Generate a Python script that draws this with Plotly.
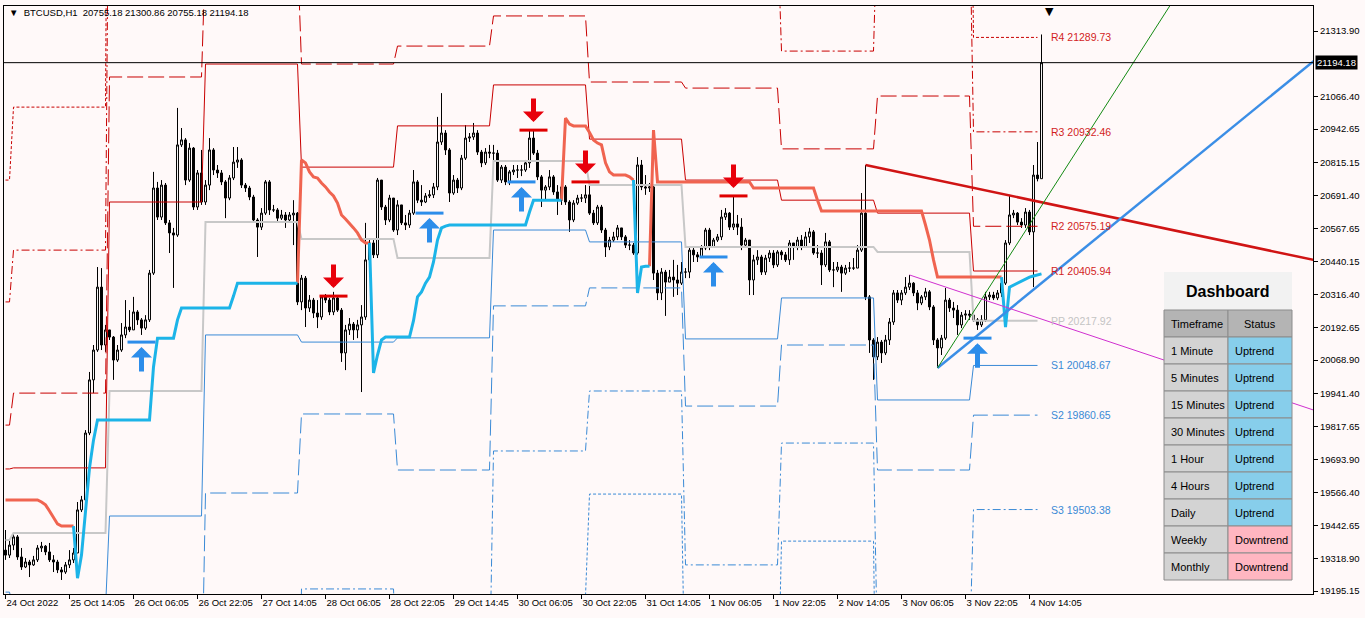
import plotly.graph_objects as go

# ---------------- data ----------------
TIME_TICK_BARS = [0, 16, 32, 48, 64, 80, 96, 112, 128, 144, 160, 176, 192, 208, 224, 240, 256]
TIME_TICK_LABELS = ["24 Oct 2022", "25 Oct 14:05", "26 Oct 06:05", "26 Oct 22:05", "27 Oct 14:05",
                    "28 Oct 06:05", "28 Oct 22:05", "29 Oct 14:45", "30 Oct 06:05", "30 Oct 22:05",
                    "31 Oct 14:05", "1 Nov 06:05", "1 Nov 22:05", "2 Nov 14:05", "3 Nov 06:05",
                    "3 Nov 22:05", "4 Nov 14:05"]
PRICE_TICKS = [21313.90, 21066.40, 20942.65, 20815.15, 20691.40, 20567.65, 20440.15, 20316.40,
               20192.65, 20068.90, 19941.40, 19817.65, 19693.90, 19566.40, 19442.65, 19318.90, 19195.15]

FIRST_OPEN = 19350
CLOSE = [19331, 19369, 19400, 19324, 19286, 19305, 19294, 19313, 19358, 19365,
         19343, 19313, 19305, 19275, 19267, 19294, 19313, 19339, 19502, 19540,
         19793, 19994, 20107, 20345, 20126, 20183, 20156, 20069, 20107, 20164,
         20194, 20183, 20251, 20221, 20190, 20221, 20398, 20720, 20610, 20731,
         20588, 20550, 20542, 20883, 20902, 20750, 20871, 20648, 20777, 20667,
         20731, 20864, 20788, 20777, 20743, 20682, 20758, 20818, 20826, 20731,
         20720, 20686, 20599, 20572, 20625, 20743, 20637, 20637, 20606, 20618,
         20599, 20618, 20625, 20289, 20379, 20266, 20296, 20247, 20232, 20308,
         20296, 20251, 20304, 20258, 20096, 20183, 20205, 20183, 20202, 20232,
         20448, 20512, 20467, 20750, 20648, 20599, 20682, 20561, 20656, 20588,
         20580, 20625, 20743, 20674, 20667, 20690, 20694, 20724, 20894, 20928,
         20864, 20701, 20750, 20720, 20833, 20909, 20913, 20928, 20856, 20815,
         20856, 20852, 20852, 20750, 20799, 20743, 20781, 20788, 20788, 20788,
         20815, 20909, 20852, 20762, 20712, 20724, 20762, 20705, 20674, 20724,
         20667, 20599, 20663, 20682, 20682, 20694, 20625, 20588, 20648, 20561,
         20497, 20523, 20535, 20569, 20535, 20504, 20504, 20474, 20807, 20724,
         20720, 20724, 20398, 20323, 20402, 20364, 20383, 20372, 20360, 20402,
         20402, 20485, 20467, 20459, 20493, 20561, 20497, 20523, 20535, 20610,
         20625, 20572, 20584, 20572, 20504, 20523, 20372, 20448, 20459, 20402,
         20455, 20474, 20429, 20478, 20467, 20448, 20512, 20497, 20523, 20497,
         20535, 20554, 20474, 20474, 20429, 20516, 20410, 20410, 20421, 20398,
         20417, 20417, 20417, 20485, 20625, 20308, 20145, 20081, 20137, 20096,
         20145, 20213, 20323, 20296, 20323, 20345, 20360, 20323, 20285, 20308,
         20327, 20270, 20145, 20115, 20152, 20296, 20266, 20258, 20202, 20239,
         20243, 20239, 20221, 20202, 20221, 20308, 20315, 20304, 20323, 20360,
         20512, 20618, 20625, 20591, 20580, 20629, 20554, 20769, 20755.18, 21194.18]
HIGH = [19426, 19388, 19415, 19407, 19358, 19320, 19313, 19328, 19369, 19381,
        19369, 19377, 19331, 19313, 19286, 19305, 19350, 19358, 19532, 19555,
        19804, 20024, 20126, 20421, 20417, 20202, 20183, 20160, 20126, 20209,
        20296, 20258, 20308, 20258, 20228, 20239, 20410, 20781, 20743, 20750,
        20739, 20599, 20569, 21023, 20947, 20909, 20890, 20875, 20788, 20864,
        20750, 20909, 20871, 20807, 20788, 20750, 20769, 20875, 20875, 20833,
        20739, 20728, 20694, 20606, 20644, 20750, 20750, 20656, 20644, 20637,
        20629, 20629, 20674, 20629, 20391, 20387, 20315, 20304, 20296, 20315,
        20319, 20304, 20327, 20308, 20266, 20202, 20228, 20213, 20221, 20277,
        20588, 20523, 20523, 20758, 20750, 20656, 20694, 20682, 20674, 20656,
        20618, 20637, 20788, 20750, 20731, 20701, 20712, 20739, 20989, 21079,
        20939, 20871, 20769, 20758, 20845, 20958, 20928, 20966, 20939, 20864,
        20871, 20883, 20883, 20864, 20807, 20807, 20788, 20807, 20807, 20807,
        20826, 20939, 20936, 20864, 20769, 20731, 20788, 20769, 20731, 20739,
        20731, 20674, 20674, 20694, 20697, 20731, 20743, 20637, 20656, 20656,
        20569, 20535, 20554, 20580, 20569, 20542, 20523, 20512, 20837, 20826,
        20769, 20739, 20731, 20410, 20417, 20410, 20410, 20448, 20429, 20440,
        20417, 20493, 20493, 20478, 20504, 20569, 20569, 20531, 20546, 20637,
        20644, 20629, 20686, 20618, 20606, 20531, 20523, 20467, 20485, 20467,
        20467, 20485, 20485, 20485, 20485, 20478, 20523, 20512, 20535, 20542,
        20554, 20569, 20561, 20504, 20485, 20550, 20523, 20440, 20440, 20429,
        20429, 20440, 20455, 20504, 20701, 20807, 20315, 20152, 20156, 20145,
        20164, 20228, 20334, 20334, 20334, 20383, 20391, 20364, 20334, 20315,
        20342, 20334, 20277, 20152, 20164, 20342, 20304, 20289, 20277, 20251,
        20258, 20258, 20247, 20228, 20239, 20327, 20327, 20327, 20334, 20372,
        20523, 20694, 20637, 20629, 20606, 20644, 20637, 20807, 20894, 21300.86]
LOW = [19313, 19320, 19350, 19313, 19275, 19282, 19248, 19290, 19305, 19343,
       19331, 19305, 19267, 19263, 19237, 19260, 19282, 19301, 19339, 19494,
       19521, 19785, 19944, 20100, 20107, 20100, 20145, 19994, 20062, 20100,
       20152, 20175, 20183, 20202, 20164, 20183, 20213, 20391, 20599, 20599,
       20580, 20474, 20342, 20535, 20875, 20731, 20743, 20637, 20637, 20656,
       20656, 20712, 20769, 20758, 20731, 20606, 20674, 20750, 20796, 20720,
       20705, 20674, 20591, 20459, 20561, 20618, 20618, 20629, 20591, 20599,
       20569, 20591, 20504, 20277, 20258, 20194, 20251, 20228, 20190, 20221,
       20285, 20239, 20239, 20251, 20062, 20031, 20164, 20145, 20152, 19948,
       20221, 20440, 20455, 20455, 20637, 20580, 20591, 20554, 20542, 20580,
       20561, 20569, 20618, 20663, 20652, 20663, 20682, 20682, 20712, 20883,
       20845, 20667, 20694, 20701, 20712, 20826, 20894, 20902, 20845, 20799,
       20807, 20833, 20826, 20743, 20739, 20731, 20731, 20769, 20758, 20765,
       20781, 20796, 20845, 20750, 20648, 20674, 20712, 20694, 20618, 20656,
       20656, 20554, 20591, 20656, 20667, 20663, 20618, 20580, 20580, 20550,
       20459, 20485, 20516, 20523, 20523, 20493, 20485, 20467, 20467, 20712,
       20694, 20705, 20372, 20296, 20296, 20236, 20364, 20308, 20315, 20353,
       20379, 20379, 20440, 20440, 20455, 20485, 20485, 20493, 20516, 20523,
       20599, 20561, 20561, 20542, 20485, 20493, 20315, 20315, 20429, 20391,
       20391, 20440, 20417, 20421, 20448, 20440, 20429, 20448, 20485, 20485,
       20493, 20512, 20467, 20455, 20353, 20421, 20402, 20345, 20402, 20327,
       20391, 20402, 20410, 20417, 20478, 20296, 20096, 19994, 20069, 20058,
       20088, 20126, 20202, 20285, 20277, 20315, 20334, 20311, 20258, 20277,
       20296, 20258, 20126, 20039, 20088, 20145, 20251, 20228, 20164, 20190,
       20221, 20221, 20213, 20183, 20194, 20213, 20296, 20296, 20296, 20308,
       20353, 20504, 20606, 20580, 20569, 20569, 20542, 20345, 20745, 20755.18]

# daily pivot levels (one value per day, last = current day)
DAY_FIRST_BAR = [0, 2, 26, 50, 74, 98, 122, 146, 170, 194, 218, 242]
LAST_PIVOT_BAR = 258
R4 = [20750, 21026, 23516, 23667, 22513, 22861, 22468, 21900, 22302, 21609, 22483, 21289.73]
R3 = [20289, 20485, 22328, 22642, 21851, 22059, 21919, 21511, 21700, 21238, 21776, 20932.46]
R2 = [19823, 19944, 21140, 21617, 21189, 21257, 21371, 21121, 21098, 20868, 21068, 20575.19]
R1 = [19657, 19661, 20667, 21189, 20799, 20955, 21110, 20905, 20750, 20674, 20625, 20405.94]
PP = [19388, 19415, 19952, 20591, 20527, 20455, 20822, 20731, 20497, 20497, 20478, 20217.92]
S1 = [19191, 19127, 19479, 20164, 20137, 20153, 20561, 20516, 20149, 20304, 19918, 20048.67]
S2 = [18893, 18881, 18764, 19566, 19865, 19653, 20274, 20342, 19895, 20126, 19653, 19860.65]
S3 = [18427, 18348, 17576, 18541, 19203, 18851, 19725, 19952, 19294, 19755, 18946, 19503.38]
S4 = [17962, 17814, 16388, 17515, 18541, 18049, 19176, 19562, 18692, 19384, 18238, 19146.11]

# trailing stop line: (first bar, values)
ORANGE_SEGS = [
    (0, [19540, 19540, 19540, 19540, 19540, 19540, 19540, 19540, 19540, 19532, 19521, 19498,
         19471, 19449, 19441, 19441, 19441, 19441]),
    (73, [20360, 20826, 20815, 20781, 20762, 20758, 20739, 20724, 20705, 20690, 20663, 20618,
          20603, 20588, 20569, 20550, 20523, 20512, 20512]),
    (139, [20674, 20985, 20962, 20955, 20955, 20955, 20955, 20930, 20902, 20890, 20883, 20815,
           20781, 20769, 20769, 20769, 20769, 20762, 20750]),
    (161, [20424, 20939,
           20743, 20743, 20743, 20743, 20743, 20743, 20743, 20743, 20743, 20743,
           20743, 20743, 20743, 20743, 20743, 20743, 20743, 20743, 20743, 20743,
           20743, 20743, 20743, 20743,
           20720, 20720, 20720, 20720, 20720, 20720, 20720, 20720, 20720, 20720,
           20720, 20720, 20720, 20720, 20720, 20720,
           20674, 20633, 20633, 20633, 20633, 20633, 20633, 20633, 20633, 20633,
           20633, 20633, 20633, 20633, 20633, 20633, 20633, 20633, 20633, 20633,
           20633, 20633, 20633, 20633, 20633, 20633, 20633,
           20580, 20523, 20448,
           20383, 20383, 20383, 20383, 20383, 20383, 20383, 20383, 20383, 20383,
           20383, 20383, 20383, 20383, 20383, 20383, 20383]),
]
BLUE_SEGS = [
    (17, [19441, 19244, 19331, 19502, 19661, 19766, 19842,
          19842, 19842, 19842, 19842, 19842, 19842, 19842, 19842, 19842, 19842, 19842, 19842, 19842,
          20043, 20152, 20152, 20152, 20152, 20152, 20221,
          20266, 20266, 20266, 20266, 20266, 20266, 20266, 20266, 20266, 20266, 20266, 20266, 20266,
          20311,
          20360, 20360, 20360, 20360, 20360, 20360, 20360, 20360, 20360, 20360, 20360, 20360, 20360,
          20360, 20360, 20360]),
    (91, [20512, 20020, 20088, 20145, 20156, 20156, 20156, 20156, 20156, 20156, 20156,
          20218, 20308, 20327, 20360, 20383, 20440, 20523, 20569, 20576,
          20580, 20580, 20580, 20580, 20580, 20580, 20580, 20580, 20580, 20580,
          20580, 20580, 20580, 20580, 20580, 20580, 20580, 20580, 20580, 20580,
          20629, 20674, 20674, 20674, 20674, 20674, 20674, 20674, 20674]),
    (157, [20750, 20323, 20421, 20424, 20424]),
    (249, [20383, 20194, 20345, 20353, 20360, 20368, 20376, 20383, 20387, 20391, 20395]),
]

SELL_BARS = [82, 132, 145, 182]
SELL_LEVELS = [20311, 20939, 20743, 20690]
BUY_BARS = [34, 106, 129, 177, 243]
BUY_LEVELS = [20137, 20625, 20743, 20459, 20152]

RED_TREND = ([215, 327], [20807, 20448])
BLUE_TREND = ([233, 327], [20039, 21200])
GREEN_TREND = ([233, 292], [20039, 21431])
MAGENTA_TREND = ([226, 327], [20391, 19880])

TIMEFRAMES = ["1 Minute", "5 Minutes", "15 Minutes", "30 Minutes", "1 Hour", "4 Hours",
              "Daily", "Weekly", "Monthly"]
STATUSES = ["Uptrend", "Uptrend", "Uptrend", "Uptrend", "Uptrend", "Uptrend", "Uptrend",
            "Downtrend", "Downtrend"]

# ---------------- styling ----------------
BG = "#FFF9F9"
FONT = "Liberation Sans, Arial, sans-serif"
RED_PIV = "#C80000"
BLUE_PIV = "#3A8AD6"
W, H = 1365, 618
PL, PR, PT, PB = 4, 1313, 6, 594


def px(x):
    return (x - PL) / (PR - PL)


def py(y):
    return (PB - y) / (PB - PT)


fig = go.Figure()

# pivot levels: each day drawn from its first to its last bar, joined to the next day
piv_styles = [
    ("R4", R4, RED_PIV, "3px,2px", 1),
    ("R3", R3, RED_PIV, "8px,3px,2px,3px", 1),
    ("R2", R2, RED_PIV, "16px,5px", 1),
    ("R1", R1, RED_PIV, "solid", 1),
    ("PP", PP, "#C8C8C8", "solid", 2),
    ("S1", S1, BLUE_PIV, "solid", 1),
    ("S2", S2, BLUE_PIV, "16px,5px", 1),
    ("S3", S3, BLUE_PIV, "8px,3px,2px,3px", 1),
    ("S4", S4, BLUE_PIV, "3px,2px", 1),
]
day_last = [b - 1 for b in DAY_FIRST_BAR[1:]] + [LAST_PIVOT_BAR]
for name, vals, col, dash, w in piv_styles:
    xs, ys = [], []
    for s, e, v in zip(DAY_FIRST_BAR, day_last, vals):
        xs += [s, e]
        ys += [v, v]
    fig.add_trace(go.Scatter(x=xs, y=ys, mode="lines",
                             line=dict(color=col, width=w, dash=dash),
                             hoverinfo="skip", showlegend=False))

# candles
bars = list(range(len(CLOSE)))
opens = [FIRST_OPEN] + CLOSE[:-1]
fig.add_trace(go.Candlestick(x=bars, open=opens, high=HIGH, low=LOW, close=CLOSE,
                             increasing=dict(line=dict(color="black", width=1), fillcolor="white"),
                             decreasing=dict(line=dict(color="black", width=1), fillcolor="black"),
                             whiskerwidth=0, hoverinfo="skip", showlegend=False))

# trailing lines
for start, vals in ORANGE_SEGS:
    fig.add_trace(go.Scatter(x=[start + k for k in range(len(vals))], y=vals, mode="lines",
                             line=dict(color="#F06450", width=3), hoverinfo="skip", showlegend=False))
for start, vals in BLUE_SEGS:
    fig.add_trace(go.Scatter(x=[start + k for k in range(len(vals))], y=vals, mode="lines",
                             line=dict(color="#1CB4E8", width=3), hoverinfo="skip", showlegend=False))

# trend lines
for (xs, ys), col, w in [(RED_TREND, "#D01414", 2.5), (BLUE_TREND, "#3B8EE6", 2.5),
                         (GREEN_TREND, "#138A13", 1), (MAGENTA_TREND, "#D030D0", 1)]:
    fig.add_trace(go.Scatter(x=xs, y=ys, mode="lines", line=dict(color=col, width=w),
                             hoverinfo="skip", showlegend=False))

# signal bars
fig.add_trace(go.Scatter(x=SELL_BARS, y=SELL_LEVELS, mode="markers",
                         marker=dict(symbol="line-ew", size=20, line=dict(color="#E00000", width=3)),
                         hoverinfo="skip", showlegend=False))
fig.add_trace(go.Scatter(x=BUY_BARS, y=BUY_LEVELS, mode="markers",
                         marker=dict(symbol="line-ew", size=20, line=dict(color="#2C8DEA", width=3)),
                         hoverinfo="skip", showlegend=False))

annotations = []
shapes = []
for b, lv in zip(SELL_BARS, SELL_LEVELS):
    annotations.append(dict(x=b, y=lv, xref="x", yref="y", ax=0, ay=-33, showarrow=True, text="",
                            arrowhead=1, arrowsize=0.7, arrowwidth=5, arrowcolor="#E8000B", standoff=8))
for b, lv in zip(BUY_BARS, BUY_LEVELS):
    annotations.append(dict(x=b, y=lv, xref="x", yref="y", ax=0, ay=31, showarrow=True, text="",
                            arrowhead=1, arrowsize=0.7, arrowwidth=5, arrowcolor="#2C8DEA", standoff=5))

# pivot labels (current day)
label_x = 260.75
for name, vals, col in [("R4", R4, "#D21E1E"), ("R3", R3, "#D21E1E"), ("R2", R2, "#D21E1E"),
                        ("R1", R1, "#D21E1E"), ("PP", PP, "#C4C4C4"), ("S1", S1, "#3A8AD6"),
                        ("S2", S2, "#3A8AD6"), ("S3", S3, "#3A8AD6")]:
    annotations.append(dict(x=label_x, y=vals[-1], xref="x", yref="y", text=f"{name} {vals[-1]:.2f}",
                            showarrow=False, xanchor="left", yanchor="middle",
                            font=dict(family=FONT, size=10.5, color=col)))

# current price label
annotations.append(dict(x=1.0, y=CLOSE[-1], xref="paper", yref="y", text=f"{CLOSE[-1]:.2f}",
                        showarrow=False, xanchor="left", yanchor="middle", xshift=2,
                        bgcolor="black", borderpad=1, font=dict(family=FONT, size=9.5, color="white")))
# chart title
annotations.append(dict(x=px(7), y=py(13), xref="paper", yref="paper",
                        text="\u25BC  BTCUSD,H1  20755.18 21300.86 20755.18 21194.18",
                        showarrow=False, xanchor="left", yanchor="middle",
                        font=dict(family=FONT, size=9.5, color="black")))
# shift marker
annotations.append(dict(x=px(1049), y=1.0, xref="paper", yref="paper", text="\u25BC",
                        showarrow=False, xanchor="center", yanchor="top", yshift=3,
                        font=dict(family="DejaVu Sans", size=11, color="black")))

# dashboard (title box + table cells built from the lists)
DX0, DX1, DXM = 1164, 1292, 1228
DY_TITLE, DY_HEAD, ROW_H = 272, 310, 27
shapes.append(dict(type="rect", xref="paper", yref="paper", layer="above",
                   x0=px(DX0), x1=px(DX1), y0=py(DY_HEAD), y1=py(DY_TITLE),
                   fillcolor="#F2F2F2", line=dict(width=0)))
annotations.append(dict(x=px(DXM), y=py((DY_TITLE + DY_HEAD) / 2), xref="paper", yref="paper",
                        text="<b>Dashboard</b>", showarrow=False, xanchor="center", yanchor="middle",
                        font=dict(family=FONT, size=16, color="black")))
rows = [("Timeframe", "Status", "#B4B4B4", "#B4B4B4")] + [
    (tf, st, "#D3D3D3", "#87CEEB" if st == "Uptrend" else "#FFB6C1") for tf, st in zip(TIMEFRAMES, STATUSES)]
for k, (tf, st, c1, c2) in enumerate(rows):
    y0 = DY_HEAD + k * ROW_H
    y1 = y0 + ROW_H
    for xa, xb, col in [(DX0, DXM, c1), (DXM, DX1, c2)]:
        shapes.append(dict(type="rect", xref="paper", yref="paper", layer="above",
                           x0=px(xa), x1=px(xb), y0=py(y1), y1=py(y0),
                           fillcolor=col, line=dict(color="#8C8C8C", width=1)))
    ym = py((y0 + y1) / 2)
    annotations.append(dict(x=px(DX0 + 5), y=ym, xref="paper", yref="paper", text=tf, showarrow=False,
                            xanchor="left", yanchor="middle", font=dict(family=FONT, size=11, color="black")))
    if k == 0:
        annotations.append(dict(x=px((DXM + DX1) / 2), y=ym, xref="paper", yref="paper", text=st,
                                showarrow=False, xanchor="center", yanchor="middle",
                                font=dict(family=FONT, size=11, color="black")))
    else:
        annotations.append(dict(x=px(DXM + 5), y=ym, xref="paper", yref="paper", text=st,
                                showarrow=False, xanchor="left", yanchor="middle",
                                font=dict(family=FONT, size=11, color="black")))

fig.add_hline(y=CLOSE[-1], line=dict(color="black", width=1))

fig.update_layout(
    width=W, height=H,
    margin=dict(l=PL, r=W - PR, t=PT, b=H - PB, autoexpand=False),
    paper_bgcolor=BG, plot_bgcolor=BG,
    showlegend=False,
    annotations=annotations,
    shapes=list(fig.layout.shapes) + shapes,
    font=dict(family=FONT, size=9.5, color="black"),
    xaxis=dict(range=[-0.375, 326.875], tickvals=TIME_TICK_BARS, ticktext=TIME_TICK_LABELS,
               ticks="outside", ticklen=4, tickcolor="black", ticklabelposition="outside right",
               showline=True, linecolor="black", linewidth=1, mirror=True, showgrid=False,
               zeroline=False, rangeslider=dict(visible=False), automargin=False,
               tickfont=dict(family=FONT, size=9.5, color="black")),
    yaxis=dict(range=[19183.9, 21408.6], side="right", tickvals=PRICE_TICKS,
               ticktext=[f"{v:.2f}" for v in PRICE_TICKS], ticks="outside", ticklen=4,
               tickcolor="black", showline=True, linecolor="black", linewidth=1, mirror=True,
               showgrid=False, zeroline=False, automargin=False,
               tickfont=dict(family=FONT, size=9.5, color="black")),
)

fig.write_html("out.html", config={"displayModeBar": False},
               post_script="document.body.style.margin='0';document.body.style.overflow='hidden';")
